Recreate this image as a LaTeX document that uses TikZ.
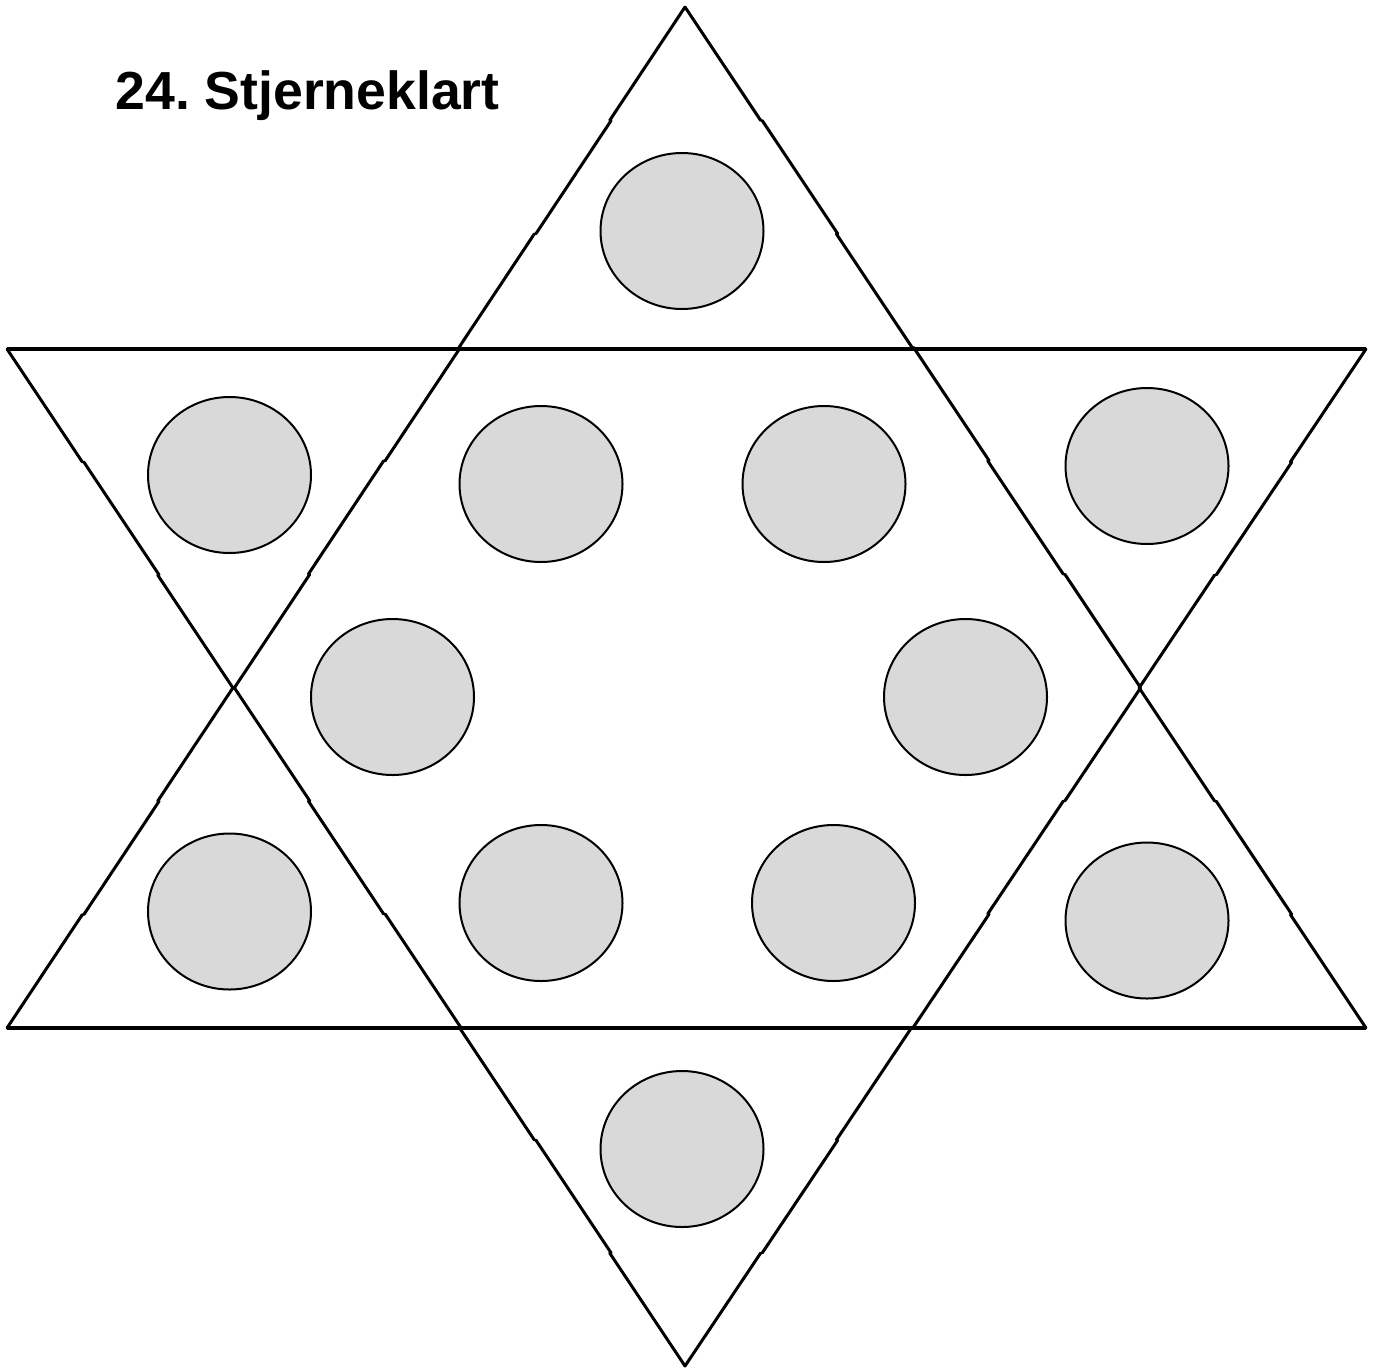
\documentclass[tikz,border=0pt]{standalone}
\usepackage{fontspec}
\setmainfont{Liberation Sans}
\usetikzlibrary{calc,shapes.geometric}

\tikzset{
  edge/.style={line width=1.5pt,line cap=round},
  rim/.style={line width=2.2pt},
  disc/.style={ellipse,draw,line width=1pt,fill=black!15,inner sep=0pt,
    minimum width=81.5pt,minimum height=78pt}
}

\begin{document}
\frenchspacing
\begin{tikzpicture}[x=0.5pt,y=-0.5pt]
  \useasboundingbox (0,0) rectangle (1380,1371);
  % corners of the two triangles
  \coordinate (up)  at (685,7);
  \coordinate (upl) at (7,1028);
  \coordinate (upr) at (1366,1028);
  \coordinate (dnl) at (7,349);
  \coordinate (dnr) at (1366,349);
  \coordinate (dn)  at (685,1366);
  % the two long bars
  \draw[rim] (dnl) -- (dnr);
  \draw[rim] (upl) -- (upr);
  % slanted sides, pieced together in nine bits each
  \foreach \a/\b in {up/upl,up/upr,dnl/dn,dnr/dn} {
    \foreach \k in {0,...,8} {
      \pgfmathsetmacro\s{\k/9}
      \pgfmathsetmacro\e{(\k+1)/9}
      \pgfmathsetmacro\d{mod(\k,2)*1.5}
      \draw[edge] ($(\a)!\s!(\b)+(\d,0)$) -- ($(\a)!\e!(\b)+(\d,0)$);
    }
  }
  % the twelve discs
  \node[disc] (top)  at (682,231) {};
  \node[disc] (nw)   at (229.5,475) {};
  \node[disc] (in1)  at (541,484) {};
  \node[disc] (in2)  at (824,484) {};
  \node[disc] (ne)   at (1147,466) {};
  \node[disc] (in6)  at (392.5,697) {};
  \node[disc] (in3)  at (965.5,697) {};
  \node[disc] (sw)   at (229.5,911.5) {};
  \node[disc] (in5)  at (541,903) {};
  \node[disc] (in4)  at (833.5,903) {};
  \node[disc] (se)   at (1147,920.5) {};
  \node[disc] (bot)  at (682,1149) {};
  % title
  \node[anchor=base west,inner sep=0pt,font=\fontsize{26.8}{30}\selectfont\bfseries]
    (title) at (115,109) {24. Stjerneklart};
\end{tikzpicture}
\end{document}
